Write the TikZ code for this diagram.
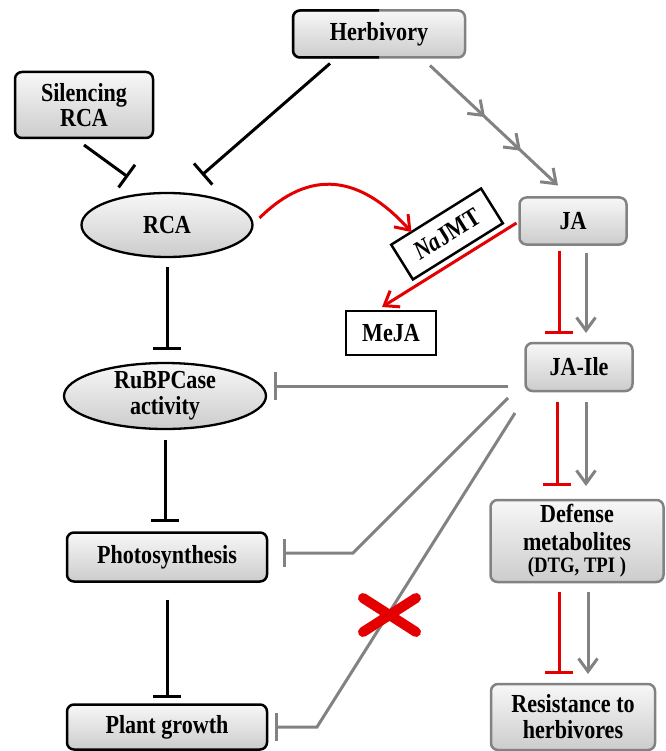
\documentclass[tikz,border=0pt]{standalone}
\usepackage{fontspec}
\setmainfont[FakeStretch=0.85]{Liberation Serif}
\usetikzlibrary{arrows.meta,shapes.geometric,calc,decorations.markings}
\definecolor{lgray}{RGB}{130,130,130}
\definecolor{lred}{RGB}{228,0,0}
\begin{document}
\begin{tikzpicture}[x=1pt,y=-1pt,
  font=\fontsize{26}{26}\selectfont\bfseries,
  box/.style={draw=black,line width=2.5pt,rounded corners=7pt,top color=gray!6,bottom color=gray!40,align=center,inner sep=0pt,outer sep=0pt},
  gbox/.style={box,draw=lgray},
  ell/.style={ellipse,draw=black,line width=2.3pt,top color=gray!6,bottom color=gray!40,align=center,inner sep=-6pt,outer sep=0pt},
  plainbox/.style={draw=black,line width=2.5pt,fill=white,inner sep=0pt,outer sep=0pt},
  inh/.style={draw=black,line width=3pt,-{Bar[width=28pt]}},
  ginh/.style={draw=lgray,line width=3pt,-{Bar[width=28pt]}},
  rinh/.style={draw=lred,line width=3pt,-{Bar[width=28pt]}},
  gact/.style={draw=lgray,line width=3pt,-{Straight Barb[length=13pt,width=19pt]}},
  ract/.style={draw=lred,line width=3pt,-{Straight Barb[length=13pt,width=19pt]}},
]
\useasboundingbox (0,0) rectangle (665,751);

% nodes
\node[gbox,minimum width=172pt,minimum height=47pt] (herb) at (379,34) {Herbivory};
\draw[line width=2.5pt,rounded corners=7pt] (herb.north) -| (herb.south west) -- (herb.south);
\node[box,minimum width=138pt,minimum height=66pt] (sil) at (84,105) {Silencing\\[-1pt]RCA};
\node[ell,minimum width=171pt,minimum height=64pt] (rca) at (167,225) {RCA};
\node[ell,minimum width=202pt,minimum height=66pt] (rubp) at (165,396) {RuBPCase\\[0pt]activity};
\node[box,minimum width=200pt,minimum height=49pt] (photo) at (167,557) {Photosynthesis};
\node[box,minimum width=200pt,minimum height=45pt] (plant) at (167,727) {Plant growth};
\node[gbox,minimum width=107pt,minimum height=47pt] (ja) at (573,221) {JA};
\node[gbox,minimum width=107pt,minimum height=48pt] (jaile) at (579,367) {JA-Ile};
\node[gbox,minimum width=173pt,minimum height=82pt] (def) at (577,541) {Defense\\[2pt]metabolites\\[-4pt]{\fontsize{22}{22}\selectfont (DTG, TPI )}};
\node[gbox,minimum width=164pt,minimum height=66pt] (res) at (573,717) {Resistance to\\[0pt]herbivores};
\node[plainbox,minimum width=106pt,minimum height=41pt,rotate=32] (najmt) at (447,234) {\textit{Na}JMT};
\node[plainbox,minimum width=90pt,minimum height=44pt] (meja) at (391,333) {MeJA};

% black inhibitions
\draw[inh] ([yshift=-7pt]sil.south) -- ([shift={(-39pt,16pt)}]rca.north);
\draw[inh] ([shift={(-49pt,-6pt)}]herb.south) -- ([shift={(35pt,18pt)}]rca.north);
\draw[inh] ([yshift=-10pt]rca.south) -- ([yshift=13pt]rca.south |- rubp.north);
\draw[inh] ([yshift=-11pt]rubp.south) -- ([yshift=11pt]rubp.south |- photo.north);
\draw[inh] ([yshift=-18pt]photo.south) -- ([yshift=7pt]photo.south |- plant.north);

% herbivory -> JA
\draw[gact,postaction={decorate},decoration={markings,
   mark=at position 0.43 with {\arrow{Straight Barb[length=13pt,width=19pt]}},
   mark=at position 0.71 with {\arrow{Straight Barb[length=13pt,width=19pt]}}}]
  ([shift={(51pt,-8pt)}]herb.south) -- ([shift={(-15pt,12pt)}]ja.north);

% red arrows
\draw[ract] ([shift={(7pt,7pt)}]rca.east) .. controls (310,168) and (360,175) .. ($(najmt.north west)!0.45!(najmt.north)$);
\draw[ract] ([shift={(-3pt,-2pt)}]ja.west) -- ([shift={(-9pt,4pt)}]meja.north);

% JA -> JA-Ile
\draw[rinh] ([shift={(-14pt,-6pt)}]ja.south) -- ([xshift=-14pt,yshift=9pt]ja.south |- jaile.north);
\draw[gact] ([shift={(13pt,-8pt)}]ja.south) -- ([xshift=13pt,yshift=10pt]ja.south |- jaile.north);
% JA-Ile -> Defense
\draw[rinh] ([shift={(-22pt,-11pt)}]jaile.south) -- ([xshift=-22pt,yshift=14pt]jaile.south |- def.north);
\draw[gact] ([shift={(7pt,-11pt)}]jaile.south) -- ([xshift=7pt,yshift=14pt]jaile.south |- def.north);
% Defense -> Resistance
\draw[rinh] ([shift={(-18pt,-10pt)}]def.south) -- ([xshift=-18pt,yshift=10pt]def.south |- res.north);
\draw[gact] ([shift={(11pt,-10pt)}]def.south) -- ([xshift=11pt,yshift=10pt]def.south |- res.north);

% JA-Ile gray inhibitions
\coordinate (g1) at (508,386);
\coordinate (g2) at (508,398);
\coordinate (g3) at (515,413);
\coordinate (k2) at (353,553);
\coordinate (k3) at (317,727);
\draw[ginh,shorten >=8pt] (g1) -- (g1 -| rubp.east);
\draw[ginh,shorten >=16pt] (g2) -- (k2) -- (k2 -| photo.east);
\draw[ginh,shorten >=8pt] (g3) -- (k3) -- (k3 -| plant.east);

% red cross
\draw[lred,line width=10pt,line cap=round] (363,598) -- (416,632) (416,598) -- (363,632);
\end{tikzpicture}
\end{document}
